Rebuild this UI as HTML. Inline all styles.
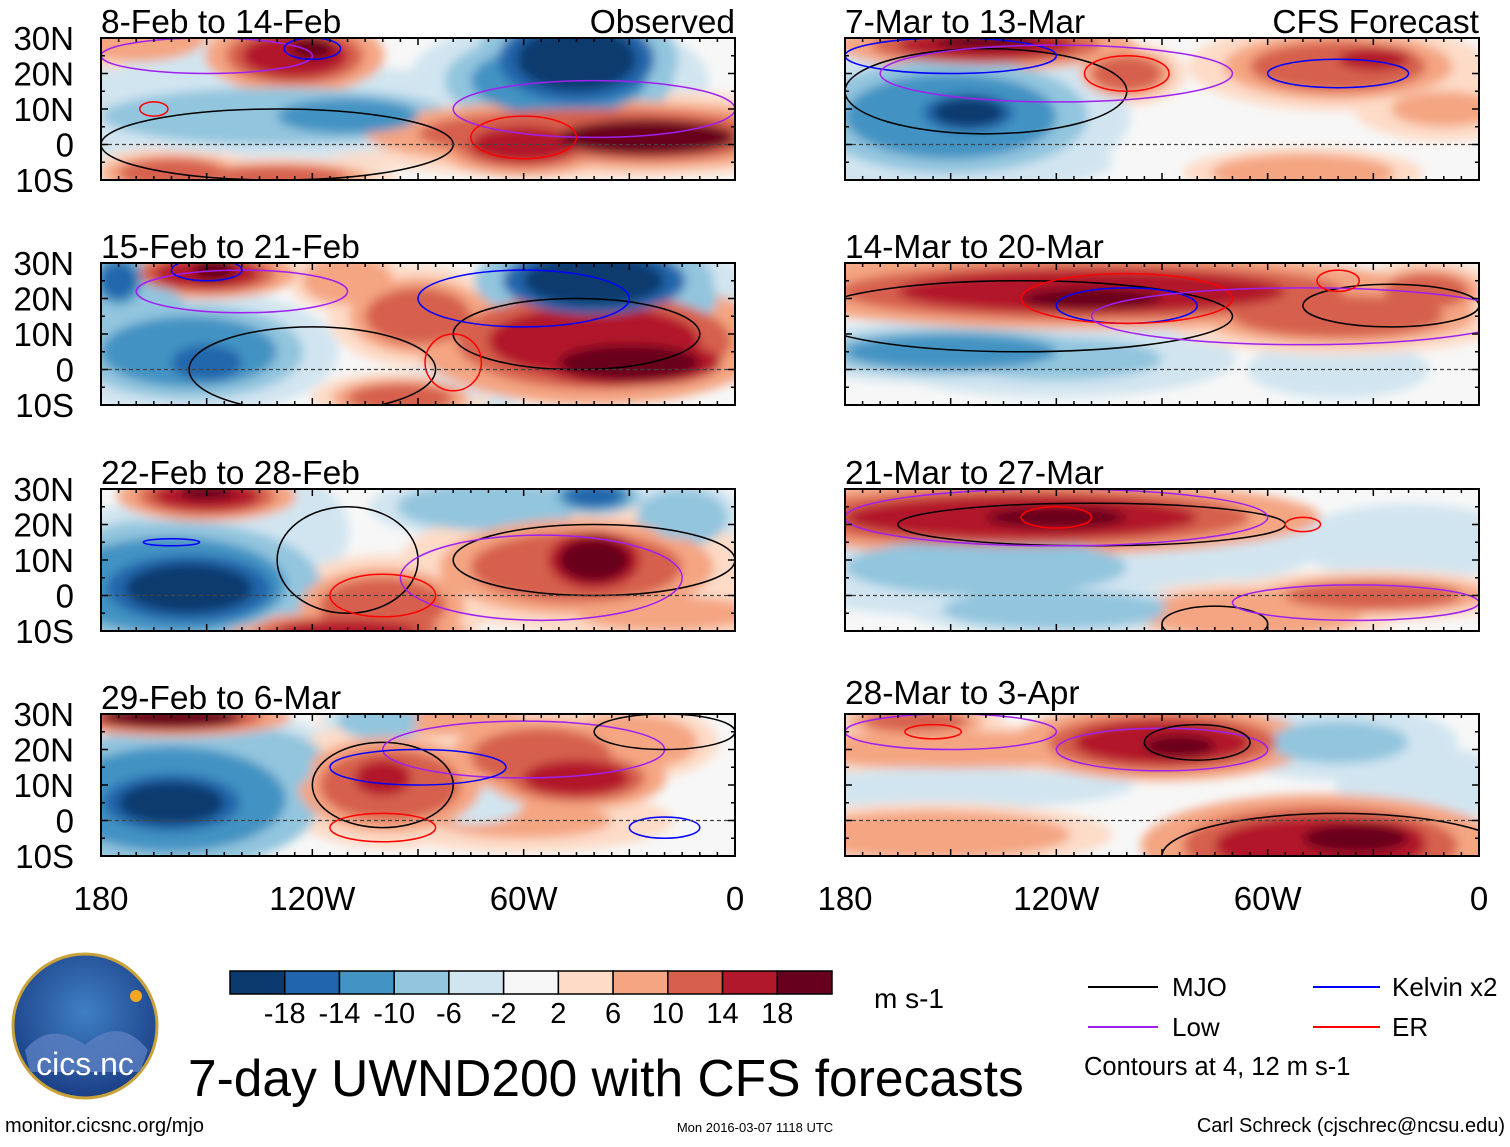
<!DOCTYPE html>
<html><head><meta charset="utf-8">
<style>
body{margin:0;background:#fff;width:1510px;height:1142px;overflow:hidden;font-family:"Liberation Sans",Arial,sans-serif;}
svg text{font-family:"Liberation Sans",Arial,sans-serif;}
</style></head>
<body>
<svg id="chart" width="1510" height="1142" viewBox="0 0 1510 1142" xmlns="http://www.w3.org/2000/svg">
<defs>
<filter id="blur" x="-20%" y="-20%" width="140%" height="140%"><feGaussianBlur stdDeviation="5"/></filter>
<radialGradient id="logoG" cx="50%" cy="40%" r="60%"><stop offset="0" stop-color="#3f7fc4"/><stop offset="1" stop-color="#1b3f86"/></radialGradient>
</defs>
<g id="panels"></g>
<g id="colorbar"></g>
<text x="874" y="1008" font-size="28">m s-1</text>
<g>
<line x1="1088" y1="987" x2="1158" y2="987" stroke="#000" stroke-width="2"/><text x="1172" y="996" font-size="26">MJO</text>
<line x1="1313" y1="987" x2="1380" y2="987" stroke="#00f" stroke-width="2"/><text x="1392" y="996" font-size="26">Kelvin x2</text>
<line x1="1088" y1="1027" x2="1158" y2="1027" stroke="#a020f0" stroke-width="2"/><text x="1172" y="1036" font-size="26">Low</text>
<line x1="1313" y1="1027" x2="1380" y2="1027" stroke="#f00" stroke-width="2"/><text x="1392" y="1036" font-size="26">ER</text>
<text x="1084" y="1075" font-size="25.5">Contours at 4, 12 m s-1</text>
</g>
<text x="188" y="1096" font-size="51.5">7-day UWND200 with CFS forecasts</text>
<text x="5" y="1132" font-size="20">monitor.cicsnc.org/mjo</text>
<text x="755" y="1132" font-size="13" text-anchor="middle">Mon 2016-03-07 1118 UTC</text>
<text x="1505" y="1132" font-size="20" text-anchor="end">Carl Schreck (cjschrec@ncsu.edu)</text>
<g>
<circle cx="85" cy="1026" r="72" fill="url(#logoG)" stroke="#c9a23a" stroke-width="3"/>
<path d="M25 1050 Q50 1020 85 1045 Q120 1015 148 1050 L140 1072 L30 1072Z" fill="#5a7fc0" opacity="0.8"/>
<circle cx="136" cy="996" r="6" fill="#f5a623"/>
<text x="85" y="1075" font-size="32" fill="#fff" text-anchor="middle">cics.nc</text>
</g>
</svg>
<script>
const colors=["#0b3a6e","#2166ac","#4393c3","#92c5de","#d1e5f0","#f7f7f7","#fddbc7","#f4a582","#d6604d","#b2182b","#67001f"];
const colorTicks=["-18","-14","-10","-6","-2","2","6","10","14","18"];
const panelTitles=["8-Feb to 14-Feb","15-Feb to 21-Feb","22-Feb to 28-Feb","29-Feb to 6-Mar","7-Mar to 13-Mar","14-Mar to 20-Mar","21-Mar to 27-Mar","28-Mar to 3-Apr"];
const latTicks=[30,20,10,0,-10];
const lonTicks=[-180,-120,-60,0];
// blobs: [value, lon, lat, rx(deg), ry(deg)]
const fields=[
[[-8,-130,8,50,8],[-12,-110,8,20,5],[-6,-150,18,20,8],[-20,-45,24,17,9],[-12,-50,18,25,10],[12,-40,3,50,7],[18,-25,2,25,5],[16,-60,0,15,5],[14,-125,25,15,6],[18,-120,27,6,3],[10,-160,-8,15,4],[10,-130,-9,20,3],[-6,-165,12,10,5],[8,-170,30,15,5]],
[[-12,-155,5,25,10],[-18,-150,2,10,5],[-8,-170,15,15,10],[-20,-40,25,20,7],[-8,-20,20,15,8],[14,-40,8,30,10],[20,-30,2,20,5],[12,-90,15,15,8],[14,-150,27,15,4],[20,-148,28,6,3],[8,-110,25,10,5],[-6,-75,0,10,8],[12,-95,-8,15,4],[-16,-175,25,5,5]],
[[-14,-160,3,25,10],[-20,-155,2,18,7],[-8,-170,15,12,6],[-10,-70,25,20,5],[-18,-40,28,8,3],[14,-150,28,15,4],[20,-150,29,8,2],[12,-45,8,30,10],[20,-40,10,10,6],[10,-100,-3,18,8],[14,-110,-10,20,3],[-10,-15,22,10,6],[-6,-135,18,15,10],[6,-20,-5,25,5]],
[[-14,-160,6,25,11],[-22,-160,5,15,6],[-10,-135,15,15,8],[18,-160,29,20,3],[-10,-100,28,10,4],[12,-98,10,20,10],[16,-100,12,8,5],[10,-55,18,20,8],[14,-45,12,15,5],[8,-85,28,20,3],[8,-30,22,15,6],[6,-60,0,25,5],[-6,-75,5,15,6]],
[[-12,-150,8,30,12],[-20,-145,9,10,4],[-6,-155,-5,30,5],[16,-140,28,25,4],[20,-140,29,15,2],[10,-100,20,10,5],[12,-40,22,25,7],[16,-30,24,10,3],[4,-160,20,20,6],[8,-50,-8,20,4],[6,-10,10,15,5]],
[[14,-110,22,55,6],[20,-110,20,20,3],[-12,-150,5,30,5],[-8,-120,3,30,6],[10,-40,15,30,6],[12,-15,22,12,5],[-4,-40,0,20,6],[6,-170,28,15,4]],
[[16,-130,22,50,6],[20,-120,22,20,3],[-8,-140,8,40,8],[-10,-120,-4,25,4],[8,-65,-5,25,5],[10,-30,0,25,4],[-4,-20,15,25,8],[-6,-70,15,15,6]],
[[14,-90,22,25,6],[18,-85,21,10,3],[14,-45,-7,30,8],[20,-35,-5,15,4],[-4,-150,10,40,5],[8,-155,-4,30,5],[8,-150,20,35,4],[-8,-40,22,20,6],[-6,-15,10,15,6],[10,-160,28,15,3]]
];
// contours: [color, lon, lat, rx, ry]
const contours=[
[["#000",-130,0,50,10],["#a020f0",-150,25,30,5],["#a020f0",-40,10,40,8],["#f00",-60,2,15,6],["#00f",-120,27,8,3],["#f00",-165,10,4,2]],
[["#000",-120,0,35,12],["#000",-45,10,35,10],["#00f",-60,20,30,8],["#a020f0",-140,22,30,6],["#f00",-80,2,8,8],["#00f",-150,28,10,3]],
[["#000",-110,10,20,15],["#000",-40,10,40,10],["#a020f0",-55,5,40,12],["#f00",-100,0,15,6],["#00f",-160,15,8,1]],
[["#000",-100,10,20,12],["#a020f0",-60,20,40,8],["#f00",-100,-2,15,4],["#00f",-90,15,25,5],["#00f",-20,-2,10,3],["#000",-20,25,20,5]],
[["#000",-140,15,40,12],["#00f",-150,25,30,5],["#a020f0",-120,20,50,8],["#f00",-100,20,12,5],["#00f",-40,20,20,4]],
[["#000",-130,15,60,10],["#00f",-100,18,20,5],["#f00",-100,20,30,7],["#000",-25,18,25,6],["#a020f0",-50,15,60,8],["#f00",-40,25,6,3]],
[["#000",-110,20,55,6],["#a020f0",-120,22,60,8],["#f00",-120,22,10,3],["#000",-75,-8,15,5],["#a020f0",-35,-2,35,5],["#f00",-50,20,5,2]],
[["#000",-40,-10,50,12],["#a020f0",-90,20,30,6],["#a020f0",-150,25,30,5],["#000",-80,22,15,5],["#f00",-155,25,8,2]]
];
const NS="http://www.w3.org/2000/svg";
function mk(tag,attrs,parent){const e=document.createElementNS(NS,tag);for(const k in attrs)e.setAttribute(k,attrs[k]);parent.appendChild(e);return e;}
function colorFor(v){const edges=[-18,-14,-10,-6,-2,2,6,10,14,18];let i=0;while(i<edges.length&&v>=edges[i])i++;return colors[i];}
const lefts=[101,845],W=634,tops=[38,263,489,714],H=142;
const root=document.getElementById('panels');
for(let p=0;p<8;p++){
  const x0=lefts[Math.floor(p/4)],y0=tops[p%4];
  const xs=lon=>x0+(lon+180)*W/180, ys=lat=>y0+(30-lat)*H/40;
  const g=mk('g',{},root);
  
  
  const cp=mk('clipPath',{id:'clip'+p},g);
  mk('rect',{x:x0,y:y0,width:W,height:H},cp);
  const inner=mk('g',{'clip-path':'url(#clip'+p+')'},g);
  mk('rect',{x:x0,y:y0,width:W,height:H,fill:'#f7f7f7'},inner);
  const fg=mk('g',{filter:'url(#blur)'},inner);
  const layers=[];
  fields[p].forEach(b=>{layers.push([b[0]*0.45,b[1],b[2],b[3]*1.7,b[4]*1.8]);layers.push([b[0]*0.75,b[1],b[2],b[3]*1.3,b[4]*1.35]);layers.push(b);});
  layers.sort((a,b)=>Math.abs(a[0])-Math.abs(b[0])).forEach(b=>{
    if(Math.abs(b[0])<2)return;
    const e=mk('ellipse',{cx:xs(b[1]),cy:ys(b[2]),rx:b[3]*W/180,ry:b[4]*H/40,fill:colorFor(b[0])},fg);
    
    
  });
  contours[p].forEach(c=>{
    const e=mk('ellipse',{cx:xs(c[1]),cy:ys(c[2]),rx:c[3]*W/180,ry:c[4]*H/40,fill:'none',stroke:c[0],'stroke-width':1.5},inner);
    
    
  });
  mk('line',{x1:x0,y1:ys(0),x2:x0+W,y2:ys(0),stroke:'#444','stroke-dasharray':'4 3','stroke-width':1.2},inner);
  mk('rect',{x:x0,y:y0,width:W,height:H,fill:'none',stroke:'#000','stroke-width':2},g);
  for(let l=-180;l<=0;l+=5){const len=l%30===0?7:4;const X=xs(l);
    mk('line',{x1:X,y1:y0,x2:X,y2:y0+len,stroke:'#000','stroke-width':1.5},g);
    mk('line',{x1:X,y1:y0+H,x2:X,y2:y0+H-len,stroke:'#000','stroke-width':1.5},g);}
  for(let la=-10;la<=30;la+=5){const Y=ys(la);const len=la%10===0?7:4;
    mk('line',{x1:x0,y1:Y,x2:x0+len,y2:Y,stroke:'#000','stroke-width':1.5},g);
    mk('line',{x1:x0+W,y1:Y,x2:x0+W-len,y2:Y,stroke:'#000','stroke-width':1.5},g);}
  const t=mk('text',{x:x0,y:p===7?y0-10:y0-5,'font-size':33.5},g);t.textContent=panelTitles[p];
  
  
  if(p===0||p===4){const s=mk('text',{x:x0+W,y:y0-5,'font-size':33.5,'text-anchor':'end'},g);s.textContent=p===0?'Observed':'CFS Forecast';
    
    }
  if(p<4){latTicks.forEach(la=>{const s=mk('text',{x:74,y:ys(la)+12,'font-size':33,'text-anchor':'end'},g);
    s.textContent=la===0?'0':(Math.abs(la)+(la>0?'N':'S'));
    
    });}
  if(p%4===3){lonTicks.forEach(l=>{const s=mk('text',{x:xs(l),y:y0+H+54,'font-size':33,'text-anchor':'middle'},g);
    s.textContent=l===-180?'180':l===0?'0':(-l)+'W';
    
    });}
}
const cb=document.getElementById('colorbar');const cbx=230,cby=971,cbw=602/11;
colors.forEach((c,i)=>{const r=mk('rect',{x:cbx+i*cbw,y:cby,width:cbw,height:23,fill:c,stroke:'#000','stroke-width':1.5},cb);
  
  });
colorTicks.forEach((t,i)=>{const s=mk('text',{x:cbx+(i+1)*cbw,y:1023,'font-size':29,'text-anchor':'middle'},cb);s.textContent=t;
  
  });
</script>
</body></html>
